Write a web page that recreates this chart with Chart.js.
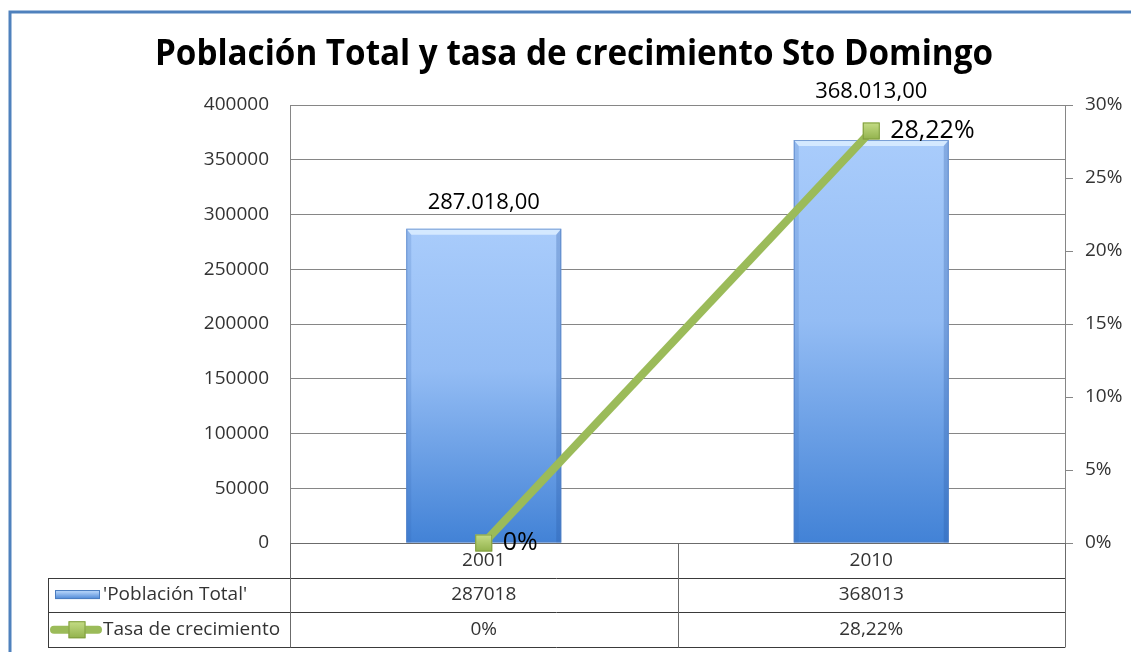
<!DOCTYPE html>
<html>
<head>
<meta charset="utf-8">
<script src="https://cdn.jsdelivr.net/npm/chart.js@4/dist/chart.umd.min.js"></script>
<style>
  body { margin: 0; background: #fff; }
  canvas { display: block; }
</style>
</head>
<body>
<canvas id="grafico" width="1131" height="652"></canvas>
<script>
// Datos del gráfico
const titulo = 'Población Total y tasa de crecimiento Sto Domingo';
const anios = ['2001', '2010'];
const poblacion = [287018, 368013];
const tasa = [0, 28.22];            // en %
const nombresSeries = ["'Población Total'", 'Tasa de crecimiento'];

// Estilo
const fuente = '"Open Sans", "Noto Sans", sans-serif';
const colorTexto = '#333333';
const colorRejilla = '#868686';
const azulMarco = '#4f81bd';
const verde = '#9bbb59';
const elevacionEtiqueta = [26, 48];  // separacion etiqueta-barra (px)

// Formato 287.018,00
function formatoMiles(v) {
    const partes = v.toFixed(2).split('.');
    const entero = partes[0].replace(/\B(?=(\d{3})+(?!\d))/g, '.');
    return entero + ',' + partes[1];
}
function formatoPct(v) {
    return v === 0 ? '0%' : v.toFixed(2).replace('.', ',') + '%';
}

// Degradado azul de cada barra
function degradadoBarra(context) {
    const chart = context.chart;
    const y = chart.scales.y;
    if (!y || !chart.chartArea) return '#8ab4f0';
    const top = y.getPixelForValue(context.raw);
    const base = y.getPixelForValue(0);
    const g = chart.ctx.createLinearGradient(0, top, 0, base);
    g.addColorStop(0, '#a9ccfb');
    g.addColorStop(0.45, '#93bcf4');
    g.addColorStop(1, '#4282d6');
    return g;
}

function dibujarBisel(ctx, left, right, top, base) {
    const b = 5;
    ctx.save();
    // franja superior clara
    ctx.beginPath();
    ctx.moveTo(left, top); ctx.lineTo(right, top);
    ctx.lineTo(right - b, top + b + 1); ctx.lineTo(left + b, top + b + 1);
    ctx.closePath();
    ctx.fillStyle = 'rgba(214,234,255,0.95)';
    ctx.fill();
    // lados
    ctx.beginPath();
    ctx.moveTo(left, top); ctx.lineTo(left + b, top + b + 1);
    ctx.lineTo(left + b, base); ctx.lineTo(left, base);
    ctx.closePath();
    ctx.fillStyle = 'rgba(50,100,180,0.18)';
    ctx.fill();
    ctx.beginPath();
    ctx.moveTo(right, top); ctx.lineTo(right - b, top + b + 1);
    ctx.lineTo(right - b, base); ctx.lineTo(right, base);
    ctx.closePath();
    ctx.fillStyle = 'rgba(40,85,160,0.28)';
    ctx.fill();
    ctx.strokeStyle = 'rgba(80,125,195,0.7)';
    ctx.lineWidth = 1;
    ctx.strokeRect(left + 0.5, top + 0.5, right - left - 1, base - top - 1);
    ctx.restore();
}

function dibujarMarcador(ctx, x, y, lado) {
    ctx.save();
    const h = lado / 2;
    const g = ctx.createLinearGradient(x, y - h, x, y + h);
    g.addColorStop(0, '#c5dd86');
    g.addColorStop(1, '#92b24c');
    ctx.fillStyle = g;
    ctx.fillRect(x - h, y - h, lado, lado);
    ctx.strokeStyle = '#7f9c3d';
    ctx.lineWidth = 1;
    ctx.strokeRect(x - h + 0.5, y - h + 0.5, lado - 1, lado - 1);
    ctx.restore();
}

// Plugin: marco, titulo, bisel, etiquetas y tabla de datos estilo Excel
const pluginExcel = {
    id: 'excel',
    beforeDraw(chart) {
        const ctx = chart.ctx;
        ctx.save();
        ctx.fillStyle = '#fff';
        ctx.fillRect(0, 0, chart.width, chart.height);
        ctx.strokeStyle = azulMarco;
        ctx.lineWidth = 3;
        ctx.beginPath();
        ctx.moveTo(chart.width, 12);
        ctx.lineTo(10, 12);
        ctx.lineTo(10, chart.height);
        ctx.stroke();

        // titulo (comprimido al ancho de Calibri)
        ctx.font = 'bold 35px ' + fuente;
        const w = ctx.measureText(titulo).width;
        const escala = Math.min(1, 838 / w);
        ctx.translate(574, 65);
        ctx.scale(escala, 1);
        ctx.fillStyle = '#000';
        ctx.textAlign = 'center';
        ctx.textBaseline = 'alphabetic';
        ctx.fillText(titulo, 0, 0);
        ctx.restore();
    },
    afterDatasetDraw(chart, args) {
        if (args.index !== 0) return;
        const ctx = chart.ctx;
        chart.getDatasetMeta(0).data.forEach(bar => {
            dibujarBisel(ctx, bar.x - bar.width / 2, bar.x + bar.width / 2, bar.y, bar.base);
        });
    },
    afterDraw(chart) {
        const ctx = chart.ctx;
        const area = chart.chartArea;
        const xs = chart.scales.x;
        ctx.save();

        // marcadores de la linea
        const puntos = chart.getDatasetMeta(1).data;
        puntos.forEach(p => dibujarMarcador(ctx, p.x, p.y, 17));

        // etiquetas de las barras
        ctx.fillStyle = '#000';
        ctx.textAlign = 'center';
        ctx.textBaseline = 'middle';
        ctx.font = '22px ' + fuente;
        chart.getDatasetMeta(0).data.forEach((bar, i) => {
            ctx.fillText(formatoMiles(poblacion[i]), bar.x, bar.y - elevacionEtiqueta[i]);
        });

        // etiquetas de la linea
        ctx.textAlign = 'left';
        ctx.font = '25px ' + fuente;
        puntos.forEach((p, i) => {
            ctx.fillText(formatoPct(tasa[i]), p.x + 19, p.y);
        });

        // tabla de datos
        const filaH = 34.7;
        const izqTabla = 48;
        const f1 = area.bottom + filaH;
        const f2 = area.bottom + filaH * 2;
        const f3 = area.bottom + filaH * 3;
        const limites = [area.left];
        for (let i = 1; i < anios.length; i++) {
            limites.push((xs.getPixelForValue(i - 1) + xs.getPixelForValue(i)) / 2);
        }
        limites.push(area.right);

        ctx.lineWidth = 1;
        ctx.strokeStyle = '#3a3a3a';
        [f1, f2, f3].forEach(yy => {
            ctx.beginPath();
            ctx.moveTo(izqTabla, Math.round(yy) + 0.5);
            ctx.lineTo(area.right, Math.round(yy) + 0.5);
            ctx.stroke();
        });
        ctx.strokeStyle = '#6b6b6b';
        limites.forEach(xx => {
            ctx.beginPath();
            ctx.moveTo(Math.round(xx) + 0.5, area.bottom);
            ctx.lineTo(Math.round(xx) + 0.5, Math.round(f3) + 0.5);
            ctx.stroke();
        });
        ctx.strokeStyle = '#3a3a3a';
        ctx.beginPath();
        ctx.moveTo(izqTabla + 0.5, Math.round(f1));
        ctx.lineTo(izqTabla + 0.5, Math.round(f3) + 0.5);
        ctx.stroke();

        // valores de la tabla
        ctx.fillStyle = colorTexto;
        ctx.textAlign = 'center';
        ctx.textBaseline = 'middle';
        ctx.font = '19px ' + fuente;
        anios.forEach((a, i) => {
            const cx = xs.getPixelForValue(i);
            ctx.fillText(String(poblacion[i]), cx, (f1 + f2) / 2);
            ctx.fillText(formatoPct(tasa[i]), cx, (f2 + f3) / 2);
        });

        // claves de leyenda
        const y1 = (f1 + f2) / 2;
        const g = ctx.createLinearGradient(0, y1 - 4, 0, y1 + 4);
        g.addColorStop(0, '#b8d6fb');
        g.addColorStop(1, '#4a86d6');
        ctx.fillStyle = g;
        ctx.fillRect(55, y1 - 5, 45, 9);
        ctx.strokeStyle = '#4a7cc0';
        ctx.strokeRect(55.5, y1 - 4.5, 44, 8);

        const y2 = (f2 + f3) / 2;
        ctx.strokeStyle = verde;
        ctx.lineWidth = 8;
        ctx.lineCap = 'round';
        ctx.beginPath();
        ctx.moveTo(54, y2);
        ctx.lineTo(98, y2);
        ctx.stroke();
        dibujarMarcador(ctx, 77, y2, 17);

        ctx.fillStyle = colorTexto;
        ctx.textAlign = 'left';
        ctx.font = '19px ' + fuente;
        ctx.fillText(nombresSeries[0], 103, y1);
        ctx.fillText(nombresSeries[1], 103, y2);
        ctx.restore();
    }
};

new Chart(document.getElementById('grafico').getContext('2d'), {
    type: 'bar',
    data: {
        labels: anios,
        datasets: [{
            label: nombresSeries[0],
            data: poblacion,
            yAxisID: 'y',
            backgroundColor: degradadoBarra,
            borderWidth: 0,
            barPercentage: 0.8,
            categoryPercentage: 0.5,
            order: 2
        }, {
            type: 'line',
            label: nombresSeries[1],
            data: tasa,
            yAxisID: 'y1',
            borderColor: verde,
            borderWidth: 8,
            pointRadius: 0,
            tension: 0,
            clip: false,
            order: 1
        }]
    },
    options: {
        responsive: false,
        animation: false,
        devicePixelRatio: 1,
        layout: { padding: { top: 105, left: 0, right: 0, bottom: 0 } },
        plugins: {
            legend: { display: false },
            tooltip: { enabled: false },
            title: { display: false }
        },
        scales: {
            x: {
                grid: { display: false, drawTicks: false },
                border: { display: true, color: '#6b6b6b' },
                ticks: { color: colorTexto, font: { family: fuente, size: 19 }, padding: 6 },
                afterFit: s => { s.height = 109; }
            },
            y: {
                min: 0,
                max: 400000,
                ticks: {
                    stepSize: 50000,
                    color: colorTexto,
                    font: { family: fuente, size: 19 },
                    padding: 21,
                    callback: v => String(v)
                },
                grid: { color: colorRejilla, drawTicks: false },
                border: { color: colorRejilla },
                afterFit: s => { s.width = 290; }
            },
            y1: {
                position: 'right',
                min: 0,
                max: 30,
                ticks: {
                    stepSize: 5,
                    color: colorTexto,
                    font: { family: fuente, size: 19 },
                    padding: 12,
                    callback: v => v + '%'
                },
                grid: { drawOnChartArea: false, color: colorRejilla, tickLength: 8 },
                border: { color: colorRejilla },
                afterFit: s => { s.width = 66; }
            }
        }
    },
    plugins: [pluginExcel]
});
</script>
</body>
</html>
